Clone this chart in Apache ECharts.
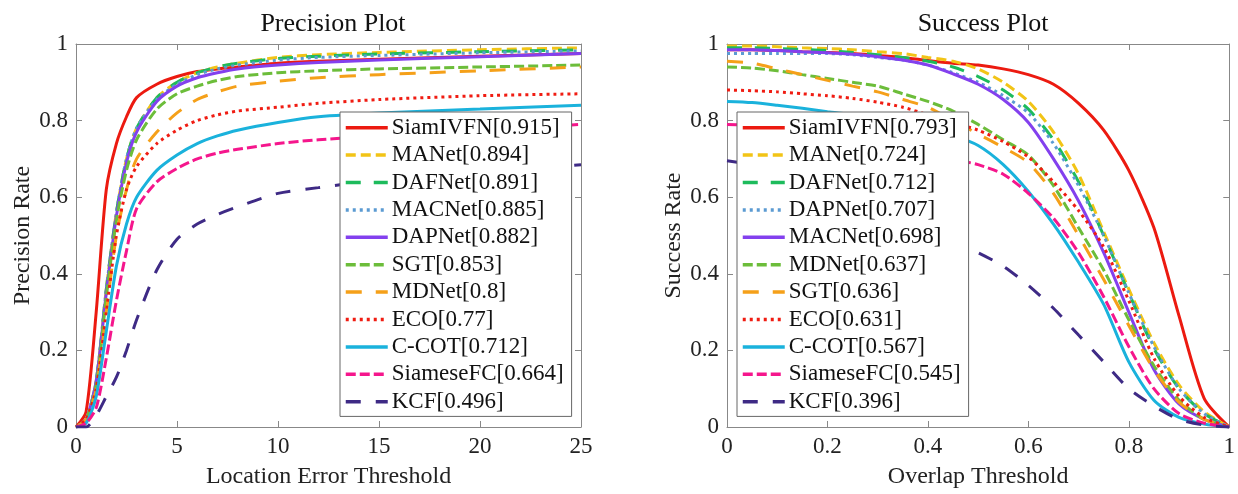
<!DOCTYPE html>
<html>
<head>
<meta charset="utf-8">
<script src="https://cdn.jsdelivr.net/npm/echarts@6/dist/echarts.min.js"></script>
<style>
  html, body { margin: 0; padding: 0; background: #fff; }
  #chart { width: 1238px; height: 494px; }
</style>
</head>
<body>
<div id="chart"></div>
<script>
// precision plot: location error threshold (px)
const precisionX = [0, 0.5, 1, 1.5, 2, 2.5, 3, 4, 5, 6, 7, 8, 10, 12, 15, 20, 25]
const precisionNames = ['SiamIVFN[0.915]', 'MANet[0.894]', 'DAFNet[0.891]', 'MACNet[0.885]', 'DAPNet[0.882]', 'SGT[0.853]', 'MDNet[0.8]', 'ECO[0.77]', 'C-COT[0.712]', 'SiameseFC[0.664]', 'KCF[0.496]']
const precSiamIVFN = [0, 0.04, 0.3, 0.62, 0.74, 0.81, 0.86, 0.895, 0.915, 0.928, 0.935, 0.94, 0.95, 0.955, 0.96, 0.968, 0.975]
const precMANet = [0, 0.02, 0.12, 0.36, 0.56, 0.70, 0.78, 0.86, 0.90, 0.925, 0.94, 0.95, 0.965, 0.972, 0.978, 0.985, 0.99]
const precDAFNet = [0, 0.02, 0.12, 0.36, 0.56, 0.70, 0.78, 0.86, 0.90, 0.925, 0.94, 0.95, 0.962, 0.968, 0.974, 0.98, 0.985]
const precMACNet = [0, 0.02, 0.12, 0.36, 0.56, 0.70, 0.78, 0.855, 0.895, 0.92, 0.935, 0.945, 0.958, 0.965, 0.97, 0.977, 0.982]
const precDAPNet = [0, 0.02, 0.12, 0.35, 0.55, 0.69, 0.77, 0.85, 0.89, 0.912, 0.925, 0.935, 0.945, 0.952, 0.958, 0.967, 0.975]
const precSGT = [0, 0.02, 0.11, 0.34, 0.54, 0.67, 0.75, 0.83, 0.87, 0.89, 0.905, 0.915, 0.925, 0.93, 0.935, 0.94, 0.945]
const precMDNet = [0, 0.02, 0.1, 0.3, 0.5, 0.62, 0.70, 0.77, 0.82, 0.855, 0.875, 0.89, 0.903, 0.912, 0.92, 0.93, 0.94]
const precECO = [0, 0.02, 0.1, 0.3, 0.5, 0.62, 0.68, 0.74, 0.775, 0.80, 0.815, 0.825, 0.835, 0.845, 0.855, 0.865, 0.87]
const precCCOT = [0, 0.01, 0.08, 0.25, 0.42, 0.53, 0.6, 0.67, 0.71, 0.74, 0.76, 0.775, 0.795, 0.81, 0.82, 0.83, 0.84]
const precSiameseFC = [0, 0.01, 0.05, 0.18, 0.33, 0.46, 0.57, 0.64, 0.675, 0.70, 0.715, 0.725, 0.74, 0.75, 0.76, 0.775, 0.79]
const precKCF = [0, 0, 0.03, 0.08, 0.13, 0.2, 0.28, 0.41, 0.49, 0.53, 0.555, 0.575, 0.61, 0.625, 0.645, 0.665, 0.685]
const precisionValues = [precSiamIVFN, precMANet, precDAFNet, precMACNet, precDAPNet, precSGT, precMDNet, precECO, precCCOT, precSiameseFC, precKCF]

// success plot: overlap threshold
const successX = [0, 0.05, 0.1, 0.15, 0.2, 0.25, 0.3, 0.35, 0.4, 0.45, 0.5, 0.55, 0.6, 0.65, 0.7, 0.75, 0.8, 0.85, 0.9, 0.95, 1]
const successNames = ['SiamIVFN[0.793]', 'MANet[0.724]', 'DAFNet[0.712]', 'DAPNet[0.707]', 'MACNet[0.698]', 'MDNet[0.637]', 'SGT[0.636]', 'ECO[0.631]', 'C-COT[0.567]', 'SiameseFC[0.545]', 'KCF[0.396]']
const succSiamIVFN = [0.985, 0.985, 0.983, 0.98, 0.978, 0.975, 0.97, 0.965, 0.957, 0.95, 0.945, 0.935, 0.92, 0.895, 0.845, 0.775, 0.67, 0.52, 0.29, 0.075, 0]
const succMANet = [0.995, 0.995, 0.993, 0.99, 0.988, 0.985, 0.98, 0.975, 0.965, 0.955, 0.935, 0.9, 0.85, 0.77, 0.66, 0.51, 0.36, 0.22, 0.11, 0.04, 0]
const succDAFNet = [0.99, 0.99, 0.988, 0.986, 0.983, 0.978, 0.972, 0.965, 0.955, 0.94, 0.915, 0.88, 0.83, 0.75, 0.64, 0.5, 0.35, 0.205, 0.1, 0.035, 0]
const succDAPNet = [0.975, 0.975, 0.975, 0.975, 0.975, 0.972, 0.965, 0.958, 0.945, 0.925, 0.9, 0.865, 0.82, 0.74, 0.63, 0.5, 0.35, 0.21, 0.1, 0.035, 0]
const succMACNet = [0.985, 0.985, 0.983, 0.98, 0.977, 0.973, 0.967, 0.958, 0.945, 0.922, 0.895, 0.855, 0.795, 0.7, 0.59, 0.455, 0.3, 0.15, 0.06, 0.02, 0]
const succMDNet = [0.94, 0.937, 0.93, 0.92, 0.91, 0.9, 0.89, 0.87, 0.85, 0.825, 0.79, 0.75, 0.71, 0.63, 0.52, 0.41, 0.28, 0.16, 0.07, 0.02, 0]
const succSGT = [0.955, 0.95, 0.935, 0.92, 0.905, 0.89, 0.875, 0.855, 0.835, 0.8, 0.765, 0.73, 0.69, 0.61, 0.5, 0.385, 0.265, 0.15, 0.065, 0.02, 0]
const succECO = [0.88, 0.878, 0.875, 0.87, 0.865, 0.858, 0.848, 0.835, 0.815, 0.795, 0.775, 0.745, 0.705, 0.64, 0.565, 0.47, 0.33, 0.18, 0.08, 0.025, 0]
const succCCOT = [0.85, 0.847, 0.84, 0.832, 0.823, 0.815, 0.805, 0.79, 0.775, 0.76, 0.735, 0.685, 0.615, 0.53, 0.43, 0.32, 0.17, 0.07, 0.025, 0.008, 0]
const succSiameseFC = [0.79, 0.788, 0.785, 0.78, 0.775, 0.765, 0.755, 0.74, 0.725, 0.7, 0.685, 0.66, 0.61, 0.545, 0.455, 0.34, 0.21, 0.1, 0.035, 0.01, 0]
const succKCF = [0.695, 0.685, 0.67, 0.655, 0.635, 0.61, 0.58, 0.55, 0.515, 0.485, 0.455, 0.42, 0.37, 0.31, 0.24, 0.17, 0.1, 0.055, 0.02, 0.005, 0]
const successValues = [succSiamIVFN, succMANet, succDAFNet, succDAPNet, succMACNet, succMDNet, succSGT, succECO, succCCOT, succSiameseFC, succKCF]

const precisionTicks = [0, 5, 10, 15, 20, 25]
const successTicks = [0, 0.2, 0.4, 0.6, 0.8, 1]
const rateTicks = [0, 0.2, 0.4, 0.6, 0.8, 1]

// line style by rank (same in both plots)
const rankColors = ['#ec1a10', '#f2c416', '#1dbb5c', '#5b9bd2', '#8340ee', '#6cbd3a', '#f5a019', '#f01c12', '#1ab2dc', '#f5168c', '#3e2a85']
const rankDash = ['solid', [10, 5], [15, 13], [3, 4], 'solid', [10, 4], [16, 14], [3, 4], 'solid', [10, 4], [15, 15]]

const serif = "'Liberation Serif', 'Times New Roman', serif"
const frame = '#888'

const chart = echarts.init(document.getElementById('chart'))

const makeSeries = (names, values, xs, idx) => names.map((name, i) => ({
  name,
  type: 'line',
  xAxisIndex: idx * 2,
  yAxisIndex: idx * 2,
  data: values[i].map((v, k) => [xs[k], v]),
  smooth: 0.25,
  symbol: 'none',
  silent: true,
  lineStyle: { color: rankColors[i], width: 3, type: rankDash[i], cap: 'butt' },
  itemStyle: { color: rankColors[i] }
}))

const xAxisPair = (grid, ticks, name) => [{
  type: 'value', gridIndex: grid, position: 'bottom',
  min: ticks[0], max: ticks[ticks.length - 1], interval: ticks[1] - ticks[0],
  name, nameLocation: 'middle', nameGap: 38,
  nameTextStyle: { fontFamily: serif, fontSize: 24, color: '#222' },
  axisLine: { onZero: false, lineStyle: { color: frame, width: 1 } },
  axisTick: { inside: true, length: 6, lineStyle: { color: frame } },
  axisLabel: { fontFamily: serif, fontSize: 23, color: '#222', margin: 8 },
  splitLine: { show: false }
}, {
  type: 'value', gridIndex: grid, position: 'top',
  min: ticks[0], max: ticks[ticks.length - 1], interval: ticks[1] - ticks[0],
  axisLine: { onZero: false, lineStyle: { color: frame, width: 1 } },
  axisTick: { inside: true, length: 6, lineStyle: { color: frame } },
  axisLabel: { show: false },
  splitLine: { show: false }
}]

const yAxisPair = (grid, name) => [{
  type: 'value', gridIndex: grid, position: 'left',
  min: 0, max: 1, interval: rateTicks[1] - rateTicks[0],
  name, nameLocation: 'middle', nameGap: 41,
  nameTextStyle: { fontFamily: serif, fontSize: 24, color: '#222' },
  axisLine: { show: true, onZero: false, lineStyle: { color: frame, width: 1 } },
  axisTick: { show: true, inside: true, length: 6, lineStyle: { color: frame } },
  axisLabel: { fontFamily: serif, fontSize: 23, color: '#222', margin: 8 },
  splitLine: { show: false }
}, {
  type: 'value', gridIndex: grid, position: 'right',
  min: 0, max: 1, interval: rateTicks[1] - rateTicks[0],
  axisLine: { show: true, onZero: false, lineStyle: { color: frame, width: 1 } },
  axisTick: { show: true, inside: true, length: 6, lineStyle: { color: frame } },
  axisLabel: { show: false },
  splitLine: { show: false }
}]

const legendBox = (left, names) => ({
  data: names,
  orient: 'vertical',
  left, top: 112,
  padding: [2, 8, 1, 4],
  itemGap: 0,
  itemWidth: 42,
  itemHeight: 14,
  itemStyle: { opacity: 0 },
  lineStyle: { width: 3.5 },
  backgroundColor: '#fff',
  borderColor: '#666',
  borderWidth: 1,
  borderRadius: 0,
  selectedMode: false,
  textStyle: { fontFamily: serif, fontSize: 23, lineHeight: 27.4, color: '#111', padding: [0, 0, 0, -1] }
})

const option = {
  animation: false,
  backgroundColor: '#fff',
  title: [{
    text: 'Precision Plot', left: 328, top: 6, textAlign: 'center',
    textStyle: { fontFamily: serif, fontSize: 26, fontWeight: 'normal', color: '#111' }
  }, {
    text: 'Success Plot', left: 978, top: 6, textAlign: 'center',
    textStyle: { fontFamily: serif, fontSize: 26, fontWeight: 'normal', color: '#111' }
  }],
  grid: [
    { left: 76, top: 44, width: 505, height: 384 },
    { left: 727, top: 44, width: 503, height: 384 }
  ],
  xAxis: [
    ...xAxisPair(0, precisionTicks, 'Location Error Threshold'),
    ...xAxisPair(1, successTicks, 'Overlap Threshold')
  ],
  yAxis: [
    ...yAxisPair(0, 'Precision Rate'),
    ...yAxisPair(1, 'Success Rate')
  ],
  legend: [legendBox(340, precisionNames), legendBox(737, successNames)],
  series: [
    ...makeSeries(precisionNames, precisionValues, precisionX, 0),
    ...makeSeries(successNames, successValues, successX, 1)
  ]
}

chart.setOption(option)
</script>
</body>
</html>
